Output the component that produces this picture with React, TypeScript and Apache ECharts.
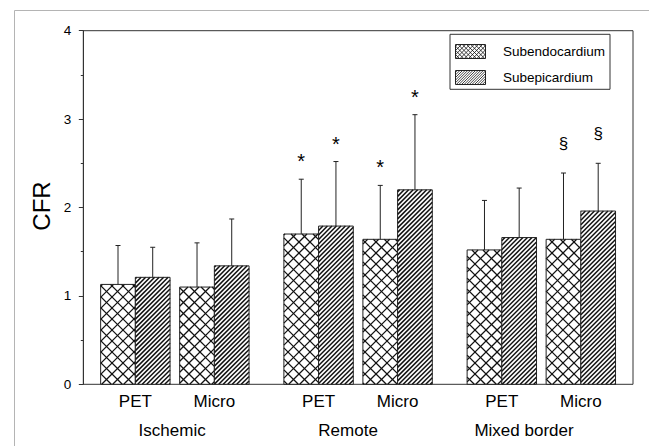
import React, { useEffect, useRef } from "react";
import * as echarts from "echarts";

// ---- data ----
const groups = ["Ischemic", "Remote", "Mixed border"];
const methods = ["PET", "Micro"];
const seriesNames = ["Subendocardium", "Subepicardium"];
// order of pairs: Ischemic PET, Ischemic Micro, Remote PET, Remote Micro, Mixed PET, Mixed Micro
const endoMean = [1.13, 1.1, 1.7, 1.64, 1.52, 1.64];
const endoUpper = [1.57, 1.6, 2.32, 2.25, 2.08, 2.39];
const epiMean = [1.21, 1.34, 1.79, 2.2, 1.66, 1.96];
const epiUpper = [1.55, 1.87, 2.52, 3.05, 2.22, 2.5];
const endoMarks = ["", "", "*", "*", "", "§"];
const epiMarks = ["", "", "*", "*", "", "§"];
const yMin = 0;
const yMax = 4;
const yInterval = 1;

// ---- layout (x axis measured in bar widths) ----
const X_MAX = 15.84;
const FIRST_PAIR_CENTER = 1.5;
const METHOD_STEP = 2.277;
const GROUP_STEP = 5.28;
const GROUP_LABEL_POS = [2.56, 7.63, 12.7];
const FONT = "'Liberation Sans', Arial, Helvetica, sans-serif";

function pairCenter(i: number) {
  const g = Math.floor(i / 2);
  const m = i % 2;
  return FIRST_PAIR_CENTER + g * GROUP_STEP + m * METHOD_STEP;
}

function hatch(
  x0: number, y0: number, x1: number, y1: number,
  period: number, dir: number, lw: number, color: string, offset = 0
) {
  const out: any[] = [];
  if (dir === 1) {
    // x + y = c  ("/")
    const cmin = x0 + y0, cmax = x1 + y1;
    const k = Math.ceil((cmin - offset) / period);
    for (let c = k * period + offset; c <= cmax; c += period) {
      const xa = Math.max(x0, c - y1), xb = Math.min(x1, c - y0);
      if (xb > xa)
        out.push({ type: "line", silent: true, shape: { x1: xa, y1: c - xa, x2: xb, y2: c - xb }, style: { stroke: color, lineWidth: lw } });
    }
  } else {
    // x - y = c  ("\")
    const cmin = x0 - y1, cmax = x1 - y0;
    const k = Math.ceil((cmin - offset) / period);
    for (let c = k * period + offset; c <= cmax; c += period) {
      const xa = Math.max(x0, y0 + c), xb = Math.min(x1, y1 + c);
      if (xb > xa)
        out.push({ type: "line", silent: true, shape: { x1: xa, y1: xa - c, x2: xb, y2: xb - c }, style: { stroke: color, lineWidth: lw } });
    }
  }
  return out;
}

function patternLines(s: number, x0: number, y0: number, x1: number, y1: number, fine = false) {
  if (s === 0) {
    const p = fine ? 4.2 : 11;
    const lw = fine ? 0.8 : 1.3;
    return [...hatch(x0, y0, x1, y1, p, 1, lw, "#111", 2), ...hatch(x0, y0, x1, y1, p, -1, lw, "#111", 2)];
  }
  const p = fine ? 2.6 : 4.5;
  const lw = fine ? 0.8 : 1.5;
  return hatch(x0, y0, x1, y1, p, 1, lw, "#111");
}

function textEl(text: string, x: number, y: number, size: number, extra: any = {}) {
  return {
    type: "text",
    silent: true,
    style: {
      text, x, y,
      font: `${size}px ${FONT}`,
      fill: "#000",
      align: "center", verticalAlign: "middle",
      textAlign: "center", textVerticalAlign: "middle",
      ...extra,
    },
  };
}

function makeBarSeries(s: number, means: number[], uppers: number[], marks: string[]) {
  return {
    type: "custom",
    name: seriesNames[s],
    silent: true,
    clip: false,
    data: means.map((m, i) => [i, m, uppers[i]]),
    renderItem: (params: any, api: any) => {
      const i = api.value(0);
      const mean = api.value(1);
      const upper = api.value(2);
      const cx = pairCenter(i) + (s === 0 ? -0.5 : 0.5);
      const [xl, yt] = api.coord([cx - 0.5, mean]);
      const [xr, yb] = api.coord([cx + 0.5, 0]);
      const [xc, yu] = api.coord([cx, upper]);
      const children: any[] = [];
      children.push({ type: "rect", silent: true, shape: { x: xl, y: yt, width: xr - xl, height: yb - yt }, style: { fill: "#fff" } });
      children.push(...patternLines(s, xl, yt, xr, yb));
      children.push({ type: "rect", silent: true, shape: { x: xl, y: yt, width: xr - xl, height: yb - yt }, style: { fill: "none", stroke: "#222", lineWidth: 1 } });
      // error bar (upper only)
      children.push({ type: "line", silent: true, shape: { x1: xc, y1: yt, x2: xc, y2: yu }, style: { stroke: "#222", lineWidth: 1 } });
      children.push({ type: "line", silent: true, shape: { x1: xc - 2.5, y1: yu, x2: xc + 2.5, y2: yu }, style: { stroke: "#222", lineWidth: 1 } });
      const mk = marks[i];
      if (mk === "*") children.push(textEl(mk, xc, yu - 18, 20));
      else if (mk) children.push(textEl(mk, xc, yu - 30, 17));
      if (s === 0) {
        const [pc] = api.coord([pairCenter(i), 0]);
        children.push(textEl(methods[i % 2], pc, yb + 17.5, 17));
      }
      return { type: "group", children };
    },
  };
}

export default function App() {
  const ref = useRef<HTMLDivElement>(null);
  useEffect(() => {
    if (!ref.current) return;
    const chart = echarts.init(ref.current, undefined, { renderer: "svg" });

    // legend elements
    const lgX = 450, lgY = 34.3;
    const legendChildren: any[] = [
      { type: "rect", shape: { x: lgX, y: lgY, width: 160, height: 55 }, style: { fill: "#fff", stroke: "#333", lineWidth: 1 } },
    ];
    seriesNames.forEach((name, s) => {
      const sx0 = 455.5, sx1 = 485.5;
      const sy0 = s === 0 ? 44.5 : 70.5;
      const sy1 = sy0 + 14;
      legendChildren.push({ type: "rect", shape: { x: sx0, y: sy0, width: sx1 - sx0, height: sy1 - sy0 }, style: { fill: "#fff" } });
      legendChildren.push(...patternLines(s, sx0, sy0, sx1, sy1, true));
      legendChildren.push({ type: "rect", shape: { x: sx0, y: sy0, width: sx1 - sx0, height: sy1 - sy0 }, style: { fill: "none", stroke: "#222", lineWidth: 1 } });
      legendChildren.push({
        type: "text",
        style: { text: name, x: 503, y: s === 0 ? 51.7 : 77.7, font: `13.5px ${FONT}`, fill: "#000", align: "left", verticalAlign: "middle", textAlign: "left", textVerticalAlign: "middle" },
      });
    });

    chart.setOption({
      animation: false,
      grid: {
        left: 83.3, right: 16, top: 30.7, bottom: 61.7,
        show: true, borderColor: "#333", borderWidth: 1, backgroundColor: "transparent",
      },
      xAxis: { type: "value", min: 0, max: X_MAX, show: false },
      yAxis: {
        type: "value", min: yMin, max: yMax, interval: yInterval,
        axisLine: { show: true, lineStyle: { color: "#333", width: 1 } },
        axisTick: { show: true, inside: false, length: 4.5, lineStyle: { color: "#333" } },
        minorTick: { show: true, splitNumber: 2, length: 2.5, lineStyle: { color: "#333" } },
        splitLine: { show: false },
        axisLabel: { fontSize: 13.5, color: "#000", fontFamily: FONT, margin: 12 },
      },
      graphic: [
        { type: "rect", silent: true, shape: { x: 14.5, y: 10.5, width: 700, height: 500 }, style: { fill: "none", stroke: "#b4b4b4", lineWidth: 1 }, z: -10 },
        {
          type: "text", x: 41.5, y: 206, rotation: Math.PI / 2,
          style: { text: "CFR", font: `24px ${FONT}`, fill: "#000", align: "center", verticalAlign: "middle", textAlign: "center", textVerticalAlign: "middle" },
        },
        { type: "group", children: legendChildren, z: 100 },
      ],
      series: [
        makeBarSeries(0, endoMean, endoUpper, endoMarks),
        makeBarSeries(1, epiMean, epiUpper, epiMarks),
        {
          type: "custom",
          name: "groups",
          silent: true,
          clip: false,
          data: groups.map((_, g) => [g]),
          renderItem: (params: any, api: any) => {
            const g = api.value(0);
            const [x, y0] = api.coord([GROUP_LABEL_POS[g], 0]);
            return textEl(groups[g], x, y0 + 46, 17);
          },
        },
      ],
    });
    return () => chart.dispose();
  }, []);
  return <div ref={ref} style={{ position: "fixed", left: 0, top: 0, width: 649, height: 446, background: "#fff" }} />;
}
